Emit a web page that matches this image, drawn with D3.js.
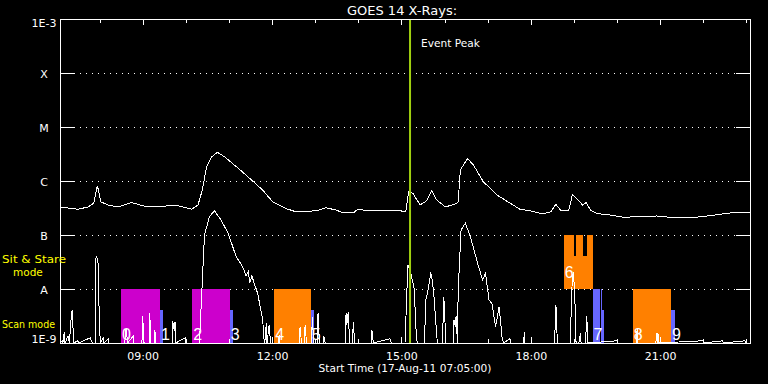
<!DOCTYPE html>
<html>
<head>
<meta charset="utf-8">
<script src="https://cdn.jsdelivr.net/npm/d3@7"></script>
<style>
  body { margin: 0; background: #000; }
  svg { display: block; background: #000; }
  text { font-family: "DejaVu Sans", sans-serif; fill: #fff; }
</style>
</head>
<body>
<div id="chart"></div>
<script>
// GOES levels (W/m^2) and their letters
var levelValues = [1e-9, 1e-8, 1e-7, 1e-6, 1e-5, 1e-4, 1e-3]
var levelLabels = ["1E-9", "A", "B", "C", "M", "X", "1E-3"]

// minutes after 07:05 UT, flux W/m^2
var longChannel = [[0,3.3e-7],[25,3.0e-7],[39,3.3e-7],[47,3.9e-7],[52,8.2e-7],[57,4.1e-7],[67,3.6e-7],[81,3.3e-7],
  [99,4.0e-7],[118,3.4e-7],[136,3.3e-7],[160,3.6e-7],[183,3.0e-7],[192,3.6e-7],[198,6.8e-7],[204,1.84e-6],
  [211,2.8e-6],[219,3.4e-6],[229,2.8e-6],[248,1.72e-6],[268,1.0e-6],[282,6.8e-7],[296,4.1e-7],[314,3.1e-7],
  [328,2.7e-7],[356,2.8e-7],[370,3.2e-7],[384,2.9e-7],[393,2.6e-7],[409,2.6e-7],[414,3.0e-7],[430,2.8e-7],
  [454,2.8e-7],[467,2.9e-7],[481,2.7e-7],[485,6.3e-7],[491,5.9e-7],[501,3.6e-7],[510,4.3e-7],[517,6.6e-7],
  [524,4.5e-7],[536,3.3e-7],[550,3.75e-7],[554,4.1e-7],[557,1.6e-6],[567,2.6e-6],[575,2.0e-6],[589,9.7e-7],
  [608,5.5e-7],[626,3.9e-7],[640,3.0e-7],[655,2.8e-7],[671,2.45e-7],[683,2.7e-7],[690,3.7e-7],[697,2.8e-7],
  [708,2.9e-7],[713,5.7e-7],[722,4.3e-7],[727,3.6e-7],[732,4.0e-7],[738,2.9e-7],[747,2.5e-7],[765,2.35e-7],
  [784,2.13e-7],[830,2.25e-7],[849,2.13e-7],[877,2.07e-7],[900,2.25e-7],[937,2.6e-7],[960,2.6e-7]]

var shortChannel = [[0,1e-9],[3,1.1e-9],[4,1e-9],[6,1.6e-9],[7,1e-9],[11,1.35e-9],[13,1e-9],[16,3.5e-9],[17,4.1e-9],
  [19,1e-9],[25,1.1e-9],[26,1e-9],[42,1.25e-9],[45,1e-9],[49,1e-9],[50,3.7e-8],[51,4e-8],[53,3e-8],[54,6.3e-9],
  [56,1e-9],[60,1.25e-9],[61,1e-9],[67,1.2e-9],[68,1e-9],[90,1e-9],[92,1.9e-9],[94,1e-9],[102,1.35e-9],[103,1e-9],
  [114,1e-9],[115,3.2e-9],[117,1e-9],[124,1e-9],[125,3.6e-9],[126,1e-9],[131,1e-9],[132,1.75e-9],[133,1e-9],
  [156,1e-9],[157,2.5e-9],[159,1.7e-9],[160,2.45e-9],[161,1e-9],[174,1.25e-9],[175,1e-9],[194,1e-9],[201,1e-7],
  [208,2.2e-7],[215,2.8e-7],[224,1.9e-7],[234,1.07e-7],[245,4e-8],[254,2.6e-8],[259,1.75e-8],[262,2.1e-8],
  [264,1.3e-8],[267,1.75e-8],[270,1.3e-8],[275,8.3e-9],[282,2.7e-9],[284,1.1e-9],[285,1e-9],[287,2.35e-9],
  [288,1e-9],[291,2.15e-9],[293,1e-9],[304,1e-9],[305,1.4e-9],[306,1e-9],[333,1e-9],[334,2e-9],[336,1e-9],
  [340,1e-9],[341,2.15e-9],[343,1e-9],[350,1e-9],[351,3e-9],[353,1e-9],[358,1e-9],[359,3.6e-9],[361,1e-9],
  [366,1e-9],[367,1.35e-9],[369,1e-9],[397,1e-9],[398,3.6e-9],[399,2.15e-9],[401,3.8e-9],[403,1e-9],[407,1e-9],
  [408,2.45e-9],[410,1e-9],[433,1e-9],[434,1.75e-9],[436,1e-9],[459,1.2e-9],[461,1e-9],[480,1e-9],[484,2.8e-8],
  [487,2.25e-8],[491,1.3e-8],[493,9.6e-9],[495,2e-9],[497,1e-9],[507,1e-9],[509,6.2e-9],[512,9.6e-9],
  [516,1.95e-8],[517,1.8e-8],[520,8.3e-9],[525,1e-9],[532,1e-9],[534,7.2e-9],[537,1e-9],[547,1e-9],[548,2.7e-9],
  [550,2e-9],[551,3.15e-9],[553,1e-9],[554,9.6e-9],[558,1.24e-7],[564,1.65e-7],[571,9.3e-8],[581,3e-8],
  [588,1.47e-8],[592,1.95e-8],[597,6.2e-9],[601,5.4e-9],[606,2e-9],[611,4.7e-9],[615,1.3e-9],[617,1e-9],
  [626,1.2e-9],[627,1e-9],[645,1e-9],[646,1.6e-9],[647,1e-9],[688,1e-9],[690,5e-9],[692,1e-9],[710,1e-9],
  [712,9.6e-9],[714,2.1e-8],[716,9.6e-9],[718,1e-9],[722,1e-9],[724,1.5e-9],[725,1e-9],[731,1e-9],[733,3.1e-9],
  [734,1e-9],[775,1.1e-9],[776,1e-9],[802,1e-9],[803,1.9e-9],[804,1e-9],[829,1e-9],[830,1.5e-9],[831,1e-9],
  [832,1.5e-9],[833,1e-9],[895,1.1e-9],[896,1e-9],[922,1.1e-9],[923,1e-9],[953,1.1e-9],[954,1e-9],[960,1e-9]]

// observation blocks: start, end, top flux, bottom flux, kind
var segStart = ["08:30","09:24","10:09","11:01","12:03","12:54","18:46","19:00","19:03","19:13","19:18","19:26","19:37","19:39","20:22","21:15"]
var segEnd   = ["09:24","09:28","11:01","11:05","12:54","12:58","19:00","19:03","19:13","19:18","19:26","19:36","19:39","19:42","21:15","21:20"]
var segTop   = [1e-8,4e-9,1e-8,4e-9,1e-8,4e-9,1e-7,4.1e-8,1e-7,4.1e-8,1e-7,1e-8,1e-8,4e-9,1e-8,4e-9]
var segBottom = [1e-9,1e-9,1e-9,1e-9,1e-9,1e-9,1e-8,1e-8,1e-8,1e-8,1e-8,1e-9,1e-9,1e-9,1e-9,1e-9]
var segKind  = ["m","b","m","b","o","b","o","o","o","o","o","b","b","b","o","b"]

var obsLabels = ["0","1","2","3","4","5","6","7","8","9"]
var obsTimes  = ["08:30","09:24","10:09","11:01","12:03","12:54","18:46","19:26","20:22","21:15"]
var obsMode   = ["scan","scan","scan","scan","scan","scan","sit","scan","scan","scan"]

var eventPeak = "15:12"
var startLabel = "Start Time (17-Aug-11 07:05:00)"

var width = 768, height = 384
var mLeft = 60, mRight = 750, mTop = 19, mBottom = 343

var parseT = d3.utcParse("%Y-%m-%d %H:%M")
function t(s) { return parseT("2011-08-17 " + s) }
var t0 = t("07:05"), t1 = t("23:05")

var x = d3.scaleUtc().domain([t0, t1]).range([mLeft, mRight])
var y = d3.scaleLog().domain([1e-9, 1e-3]).range([mBottom, mTop]).clamp(true)
var kindColor = d3.scaleOrdinal().domain(["m","o","b"]).range(["#cc00cc","#ff8000","#6666ff"])

var svg = d3.select("#chart").append("svg")
  .attr("width", width)
  .attr("height", height)

// dotted level lines
svg.append("g").selectAll("line")
  .data(levelValues.slice(1, 6))
  .enter().append("line")
  .attr("x1", mLeft + 14).attr("x2", mRight - 14)
  .attr("y1", function(d){ return Math.round(y(d)) + 0.5 })
  .attr("y2", function(d){ return Math.round(y(d)) + 0.5 })
  .attr("stroke", "#fff")
  .attr("stroke-dasharray", "1,5")

// observation blocks
var segs = segStart.map(function(s, i){
  return {start: t(s), end: t(segEnd[i]), top: segTop[i], bottom: segBottom[i], kind: segKind[i]}
})
svg.append("g").selectAll("rect")
  .data(segs)
  .enter().append("rect")
  .attr("x", function(d){ return x(d.start) })
  .attr("width", function(d){ return x(d.end) - x(d.start) })
  .attr("y", function(d){ return y(d.top) })
  .attr("height", function(d){ return y(d.bottom) - y(d.top) })
  .attr("fill", function(d){ return kindColor(d.kind) })
  .attr("shape-rendering", "crispEdges")

var line = d3.line()
  .x(function(d){ return x(d3.utcMinute.offset(t0, d[0])) })
  .y(function(d){ return y(d[1]) })

svg.selectAll("path.curve")
  .data([longChannel, shortChannel])
  .enter().append("path")
  .attr("class", "curve")
  .attr("d", line)
  .attr("fill", "none")
  .attr("stroke", "#fff")
  .attr("stroke-width", 1)
  .attr("shape-rendering", "crispEdges")

// event peak marker
svg.append("line")
  .attr("x1", x(t(eventPeak))).attr("x2", x(t(eventPeak)))
  .attr("y1", mTop).attr("y2", mBottom)
  .attr("stroke", "#a0d010")
  .attr("stroke-width", 2)
svg.append("text")
  .attr("x", x(t(eventPeak)) + 11).attr("y", 46.5)
  .style("font-size", "10.6px")
  .text("Event Peak")

// observation numbers
svg.append("g").selectAll("text")
  .data(obsLabels)
  .enter().append("text")
  .attr("x", function(d, i){ return x(t(obsTimes[i])) + 1 })
  .attr("y", function(d, i){ return obsMode[i] == "sit" ? y(1e-8) - 11 : y(1e-9) - 3 })
  .style("font-family", "Liberation Sans, sans-serif")
  .style("font-size", "16px")
  .text(function(d){ return d })

// axes
var yLeft = svg.append("g")
  .attr("transform", "translate(" + mLeft + ",0)")
  .call(d3.axisLeft(y).tickValues(levelValues).tickSize(-14)
    .tickFormat(function(d, i){ return levelLabels[i] }))
yLeft.selectAll("text")
  .attr("x", -16)
  .attr("text-anchor", "middle")
  .attr("dy", function(d, i){ return i == 0 ? "-0.05em" : i == 6 ? "0.7em" : "0.42em" })

svg.append("g")
  .attr("transform", "translate(" + mRight + ",0)")
  .call(d3.axisRight(y).tickValues(levelValues).tickSize(-14).tickFormat(""))

svg.append("g")
  .attr("transform", "translate(0," + mBottom + ")")
  .call(d3.axisBottom(x).ticks(d3.utcHour.every(3)).tickSize(-6).tickPadding(9)
    .tickFormat(d3.utcFormat("%H:%M")))
svg.append("g")
  .attr("transform", "translate(0," + mBottom + ")")
  .call(d3.axisBottom(x).ticks(d3.utcHour.every(1)).tickSize(-4).tickFormat(""))
svg.append("g")
  .attr("transform", "translate(0," + mTop + ")")
  .call(d3.axisTop(x).ticks(d3.utcHour.every(1)).tickSize(-4).tickFormat(""))
svg.append("g")
  .attr("transform", "translate(0," + mTop + ")")
  .call(d3.axisTop(x).ticks(d3.utcHour.every(3)).tickSize(-6).tickFormat(""))

svg.selectAll(".domain").remove()
svg.selectAll(".tick line")
  .attr("stroke", "#fff")
  .attr("shape-rendering", "crispEdges")
svg.selectAll(".tick text")
  .attr("fill", "#fff")
  .style("font-family", "DejaVu Sans, sans-serif")
  .style("font-size", "11px")

// plot box
svg.append("rect")
  .attr("x", mLeft + 0.5).attr("y", mTop + 0.5)
  .attr("width", mRight - mLeft).attr("height", mBottom - mTop)
  .attr("fill", "none").attr("stroke", "#fff")
  .attr("shape-rendering", "crispEdges")

// titles
svg.append("text")
  .attr("x", 402).attr("y", 15)
  .attr("text-anchor", "middle")
  .style("font-size", "13px")
  .text("GOES 14 X-Rays:")
svg.append("text")
  .attr("x", 405).attr("y", 371.5)
  .attr("text-anchor", "middle")
  .style("font-size", "10.6px")
  .text(startLabel)

var yellow = svg.append("g").style("font-size", "10.5px")
yellow.append("text").attr("x", 2).attr("y", 263).style("fill", "#ffff00")
  .attr("textLength", 64).attr("lengthAdjust", "spacingAndGlyphs").text("Sit & Stare")
yellow.append("text").attr("x", 13).attr("y", 275.5).style("fill", "#ffff00").text("mode")
yellow.append("text").attr("x", 2).attr("y", 328).style("fill", "#ffff00")
  .attr("textLength", 53).attr("lengthAdjust", "spacingAndGlyphs").text("Scan mode")
</script>
</body>
</html>
